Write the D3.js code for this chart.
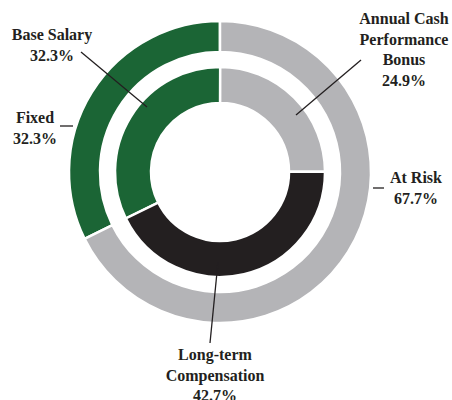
<!DOCTYPE html>
<html>
<head>
<meta charset="utf-8">
<script src="https://cdn.jsdelivr.net/npm/d3@7"></script>
<style>
  body { margin: 0; background: #fff; }
  text { font-family: "Liberation Serif", "DejaVu Serif", serif; font-weight: bold; font-size: 16px; fill: #231f20; }
</style>
</head>
<body>
<div id="chart"></div>
<script>
// outer ring: fixed vs at risk
const outerNames = ["Fixed", "At Risk"];
const outerValues = [32.3, 67.7];
// inner ring: pay components
const innerNames = ["Base Salary", "Annual Cash Performance Bonus", "Long-term Compensation"];
const innerValues = [32.3, 24.9, 42.7];

const w = 452;
const h = 400;
const cx = 220, cy = 172;

const outerColor = ["#1b6535", "#b4b4b7"];
const innerColor = ["#1b6535", "#b4b4b7", "#231f20"];

const svg = d3.select("#chart")
              .append("svg")
              .attr("width", w)
              .attr("height", h);

const g = svg.append("g").attr("transform", "translate(" + cx + "," + cy + ")");

const start = -2 * Math.PI * outerValues[0] / 100;
const pie = d3.pie().sort(null).startAngle(start).endAngle(start + 2 * Math.PI);

const outerArc = d3.arc().innerRadius(120).outerRadius(151);
const innerArc = d3.arc().innerRadius(69).outerRadius(105);

g.selectAll("path.outer")
 .data(pie(outerValues))
 .enter()
 .append("path")
 .attr("class", "outer")
 .attr("d", outerArc)
 .attr("fill", (d, i) => outerColor[i])
 .attr("stroke", "#fff")
 .attr("stroke-width", 2.5);

g.selectAll("path.inner")
 .data(pie(innerValues))
 .enter()
 .append("path")
 .attr("class", "inner")
 .attr("d", innerArc)
 .attr("fill", (d, i) => innerColor[i])
 .attr("stroke", "#fff")
 .attr("stroke-width", 2.5);

// leader lines
const leaders = [
  [81, 52, 147, 107],
  [361, 60, 296, 115],
  [218, 262, 210, 343],
  [60, 126, 73, 126],
  [373, 188, 384, 188]
];
svg.selectAll("line.leader")
   .data(leaders)
   .enter()
   .append("line")
   .attr("x1", d => d[0]).attr("y1", d => d[1])
   .attr("x2", d => d[2]).attr("y2", d => d[3])
   .attr("stroke", "#231f20")
   .attr("stroke-width", 1.3);

const fmt = v => v.toFixed(1) + "%";
const labels = [
  { x: 52, y: 40, lines: ["Base Salary", fmt(innerValues[0])] },
  { x: 404, y: 24, lines: ["Annual Cash", "Performance", "Bonus", fmt(innerValues[1])] },
  { x: 215, y: 360, lines: ["Long-term", "Compensation", fmt(innerValues[2])] },
  { x: 35, y: 123, lines: [outerNames[0], fmt(outerValues[0])] },
  { x: 416, y: 183, lines: [outerNames[1], fmt(outerValues[1])] }
];

labels.forEach(function(l) {
  const t = svg.append("text")
               .attr("x", l.x)
               .attr("y", l.y)
               .attr("text-anchor", "middle");
  l.lines.forEach(function(s, i) {
    t.append("tspan")
     .attr("x", l.x)
     .attr("dy", i === 0 ? 0 : 20.5)
     .text(s);
  });
});
</script>
</body>
</html>
